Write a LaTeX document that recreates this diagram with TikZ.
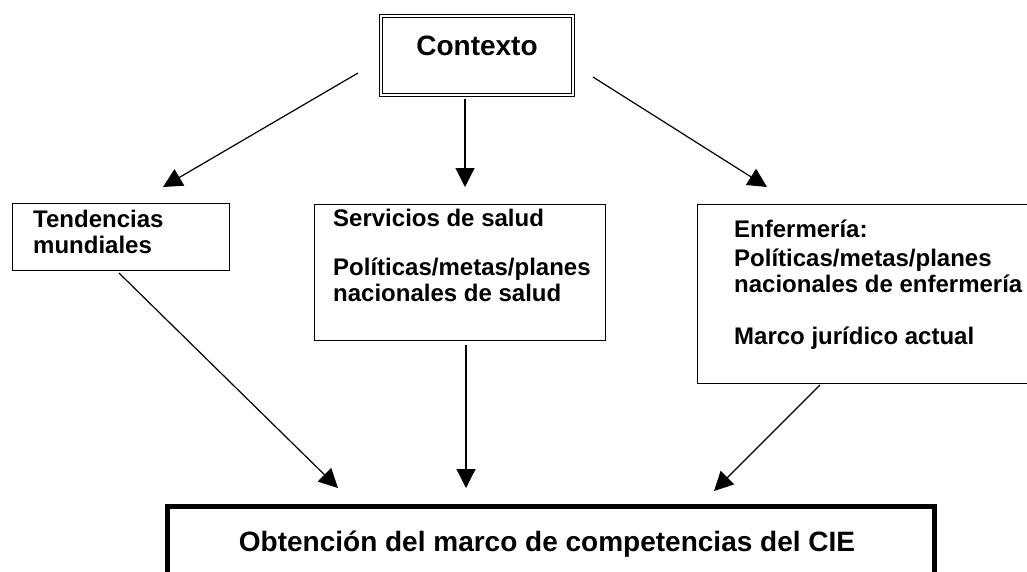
\documentclass[tikz,border=0pt]{standalone}
\usepackage{fontspec}
\setmainfont{Liberation Sans}
\usetikzlibrary{arrows.meta}

\tikzset{
  box/.style={draw, line width=1.3pt, anchor=north west, inner sep=0pt},
  txt/.style={anchor=base west, inner sep=0pt, align=left,
    font=\bfseries\fontsize{24}{26}\selectfont},
  bigtxt/.style={anchor=base, inner sep=0pt,
    font=\bfseries\fontsize{28}{32}\selectfont},
  arr/.style={line width=1.2pt, -{Triangle[length=19pt,width=19pt]}},
}

\begin{document}
\begin{tikzpicture}[x=1pt,y=-1pt]
  \clip (0,0) rectangle (1027,571);

  % boxes
  \node[box, double, line width=1.2pt, double distance=1.8pt,
        minimum width=192pt, minimum height=79pt] (ctx) at (380,15) {};
  \node[box, minimum width=217pt, minimum height=67pt] (tend) at (12,203) {};
  \node[box, minimum width=291pt, minimum height=136pt] (serv) at (314,204) {};
  \node[box, minimum width=400pt, minimum height=179pt] (enf) at (697,204) {};
  \node[box, line width=4.5pt, minimum width=767pt, minimum height=120pt] (cie) at (165,504) {};

  % texts (placed at the baseline of their last line)
  \node[bigtxt] (ctxtxt) at (477,55) {Contexto};
  \node[txt] (tendtxt) at (33,253) {Tendencias\\mundiales};
  \node[txt] (servtxt) at (333,301) {Servicios de salud\\[23pt]Políticas/metas/planes\\nacionales de salud};
  \node[txt] (enftxt) at (734,344) {Enfermería:\\[3pt]Políticas/metas/planes\\nacionales de enfermería\\[26pt]Marco jurídico actual};
  \node[bigtxt] (cietxt) at (547,551) {Obtención del marco de competencias del CIE};

  % arrow ends
  \coordinate (a1) at (358,73);
  \coordinate (a2) at (465,99);
  \coordinate (a3) at (593,77);
  \coordinate (b1) at (163,187);
  \coordinate (b2) at (465,187);
  \coordinate (b3) at (767,187);
  \coordinate (c1) at (119,273);
  \coordinate (c2) at (466,345);
  \coordinate (c3) at (820,385);
  \coordinate (d1) at (338,488);
  \coordinate (d2) at (466,488);
  \coordinate (d3) at (714,491);

  \draw[arr] (a1) -- (b1);
  \draw[arr] (a2) -- (b2);
  \draw[arr] (a3) -- (b3);
  \draw[arr] (c1) -- (d1);
  \draw[arr] (c2) -- (d2);
  \draw[arr] (c3) -- (d3);
\end{tikzpicture}
\end{document}
